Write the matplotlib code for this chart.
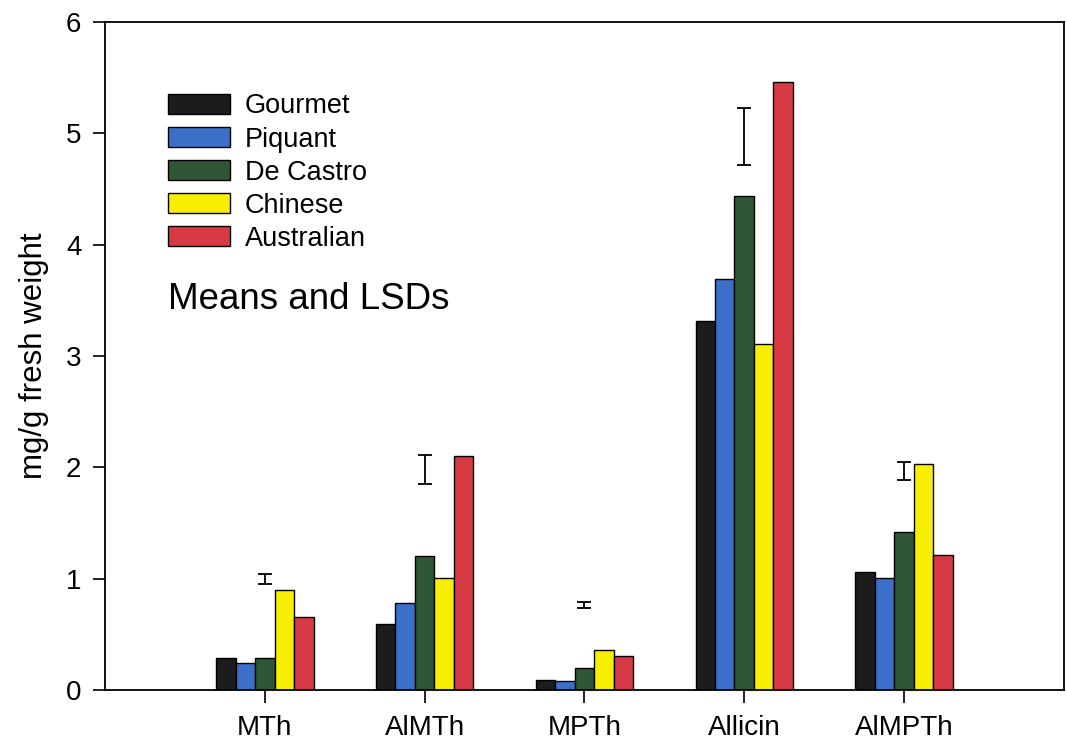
import numpy as np
import matplotlib
matplotlib.use("Agg")
import matplotlib.pyplot as plt

plt.rcParams['font.family'] = ['Liberation Sans', 'DejaVu Sans']

# compounds on the x axis
compounds = ['MTh', 'AlMTh', 'MPTh', 'Allicin', 'AlMPTh']
cultivars = ['Gourmet', 'Piquant', 'De Castro', 'Chinese', 'Australian']

# mg/g fresh weight, one list per cultivar (order follows compounds)
gourmet = [0.29, 0.59, 0.09, 3.31, 1.06]
piquant = [0.24, 0.78, 0.08, 3.69, 1.01]
de_castro = [0.29, 1.20, 0.20, 4.44, 1.42]
chinese = [0.90, 1.01, 0.36, 3.11, 2.03]
australian = [0.66, 2.10, 0.31, 5.46, 1.21]

# LSD bars: centre and half length
lsd_mid = [1.00, 1.98, 0.765, 4.97, 1.97]
lsd_half = [0.045, 0.13, 0.025, 0.255, 0.08]

colors = ['#1c1c1c', '#3b6fc8', '#2e5634', '#f8ee00', '#d83a44']

fig = plt.figure(figsize=(10.66, 7.43), dpi=100)
ax = fig.add_axes([0.0985, 0.0713, 0.8995, 0.8991])

x = np.arange(1, len(compounds) + 1)
w = 0.122
series = [gourmet, piquant, de_castro, chinese, australian]
for i, (vals, name, c) in enumerate(zip(series, cultivars, colors)):
    ax.bar(x + (i - 2) * w, vals, width=w, color=c, edgecolor='black',
           linewidth=1.0, label=name, zorder=2)

ax.errorbar(x, lsd_mid, yerr=lsd_half, fmt='none', ecolor='black',
            elinewidth=1.3, capsize=5, capthick=1.3, zorder=3)

ax.set_xlim(0, 6)
ax.set_ylim(0, 6)
ax.set_yticks(range(0, 7))
ax.set_xticks(x)
ax.set_xticklabels(compounds)
ax.tick_params(axis='y', direction='out', length=9, width=1.2, pad=8, labelsize=20)
ax.tick_params(axis='x', direction='out', length=9, width=1.2, pad=9, labelsize=20)
for s in ax.spines.values():
    s.set_linewidth(1.3)

ax.set_ylabel('mg/g fresh weight', fontsize=22.5, labelpad=12)

leg = ax.legend(loc='upper left', bbox_to_anchor=(0.0657, 0.893), frameon=False,
                fontsize=19.5, handlelength=2.29, handleheight=0.74,
                handletextpad=0.55, labelspacing=0.26, borderpad=0, borderaxespad=0)

ax.text(0.0657, 0.584, 'Means and LSDs', transform=ax.transAxes,
        fontsize=26.5, va='center', ha='left')

fig.savefig('out.png', dpi=100)
